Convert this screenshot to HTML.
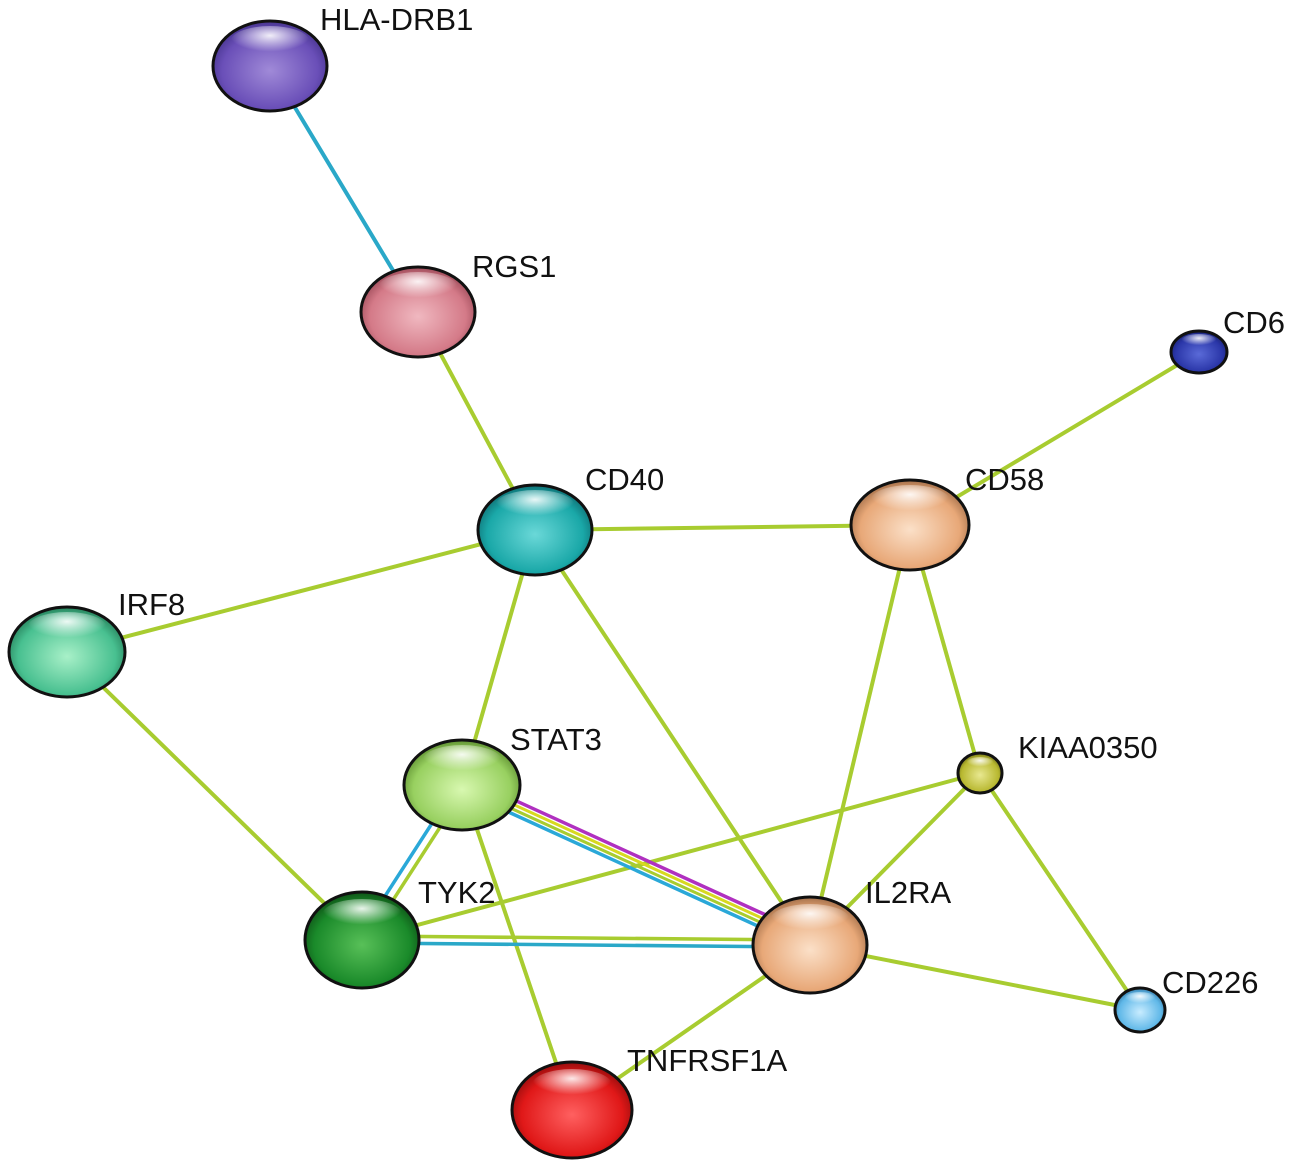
<!DOCTYPE html>
<html><head><style>
html,body{margin:0;padding:0;background:#fff;}
svg{display:block}
text{font-family:"Liberation Sans",sans-serif;font-size:31px;fill:#111}
</style></head><body>
<svg width="1289" height="1166" viewBox="0 0 1289 1166" xmlns="http://www.w3.org/2000/svg">
<defs>
<radialGradient id="hl" cx="0.5" cy="0.3" r="0.5"><stop offset="0" stop-color="#fff" stop-opacity="0.9"/><stop offset="1" stop-color="#fff" stop-opacity="0"/></radialGradient>
<radialGradient id="g_purple" cx="0.5" cy="0.55" r="0.6"><stop offset="0" stop-color="#a08ad8"/><stop offset="0.7" stop-color="#6a4fb8"/><stop offset="1" stop-color="#3a2a80"/></radialGradient>
<radialGradient id="g_pink" cx="0.5" cy="0.55" r="0.6"><stop offset="0" stop-color="#f0b8c0"/><stop offset="0.7" stop-color="#d47a88"/><stop offset="1" stop-color="#8a3a48"/></radialGradient>
<radialGradient id="g_blue" cx="0.5" cy="0.55" r="0.6"><stop offset="0" stop-color="#5a6ad8"/><stop offset="0.7" stop-color="#2a36a8"/><stop offset="1" stop-color="#141c60"/></radialGradient>
<radialGradient id="g_teal" cx="0.5" cy="0.55" r="0.6"><stop offset="0" stop-color="#6ad8d8"/><stop offset="0.7" stop-color="#1aa8a8"/><stop offset="1" stop-color="#0a5a60"/></radialGradient>
<radialGradient id="g_peach" cx="0.5" cy="0.55" r="0.6"><stop offset="0" stop-color="#fbe0c8"/><stop offset="0.7" stop-color="#e8a878"/><stop offset="1" stop-color="#8a5a38"/></radialGradient>
<radialGradient id="g_mint" cx="0.5" cy="0.55" r="0.6"><stop offset="0" stop-color="#a8f0c8"/><stop offset="0.7" stop-color="#48c090"/><stop offset="1" stop-color="#1a6a48"/></radialGradient>
<radialGradient id="g_lgreen" cx="0.5" cy="0.55" r="0.6"><stop offset="0" stop-color="#d8f8b0"/><stop offset="0.7" stop-color="#98d060"/><stop offset="1" stop-color="#4a7a20"/></radialGradient>
<radialGradient id="g_olive" cx="0.5" cy="0.55" r="0.6"><stop offset="0" stop-color="#e8e890"/><stop offset="0.7" stop-color="#b8b830"/><stop offset="1" stop-color="#5a5a10"/></radialGradient>
<radialGradient id="g_dgreen" cx="0.5" cy="0.55" r="0.6"><stop offset="0" stop-color="#58c058"/><stop offset="0.7" stop-color="#1a8a2a"/><stop offset="1" stop-color="#0a4010"/></radialGradient>
<radialGradient id="g_sky" cx="0.5" cy="0.55" r="0.6"><stop offset="0" stop-color="#c8ecff"/><stop offset="0.7" stop-color="#60b8e8"/><stop offset="1" stop-color="#2a6a98"/></radialGradient>
<radialGradient id="g_red" cx="0.5" cy="0.55" r="0.6"><stop offset="0" stop-color="#ff6060"/><stop offset="0.7" stop-color="#e01818"/><stop offset="1" stop-color="#7a0808"/></radialGradient>
</defs>
<g stroke-linecap="round" fill="none">
<line x1="270" y1="66" x2="418" y2="312" stroke="#2aa8c8" stroke-width="4"/>
<g stroke="#a8cc30" stroke-width="4">
<line x1="418" y1="312" x2="535" y2="530"/>
<line x1="1199" y1="352" x2="910" y2="525"/>
<line x1="535" y1="530" x2="910" y2="525"/>
<line x1="535" y1="530" x2="67" y2="652"/>
<line x1="535" y1="530" x2="462" y2="785"/>
<line x1="535" y1="530" x2="810" y2="945"/>
<line x1="910" y1="525" x2="810" y2="945"/>
<line x1="910" y1="525" x2="980" y2="773"/>
<line x1="67" y1="652" x2="362" y2="940"/>
<line x1="462" y1="785" x2="572" y2="1110"/>
<line x1="362" y1="940" x2="980" y2="773"/>
<line x1="980" y1="773" x2="810" y2="945"/>
<line x1="980" y1="773" x2="1140" y2="1010"/>
<line x1="810" y1="945" x2="1140" y2="1010"/>
<line x1="810" y1="945" x2="572" y2="1110"/>
</g>
<line x1="466" y1="787" x2="366" y2="942" stroke="#a8cc30" stroke-width="3.5"/>
<line x1="458" y1="783" x2="358" y2="938" stroke="#2aa8d8" stroke-width="3.5"/>
<line x1="362" y1="936" x2="810" y2="940" stroke="#a8cc30" stroke-width="3.5"/>
<line x1="362" y1="943" x2="810" y2="947" stroke="#2aa8c8" stroke-width="3.5"/>
<line x1="464" y1="777" x2="814" y2="937" stroke="#b030c0" stroke-width="3.5"/>
<line x1="462" y1="781" x2="812" y2="941" stroke="#d8d820" stroke-width="3"/>
<line x1="460" y1="785" x2="810" y2="945" stroke="#a8cc30" stroke-width="3"/>
<line x1="458" y1="789" x2="808" y2="949" stroke="#2aa8d8" stroke-width="3.5"/>
</g>
<g stroke="#111" stroke-width="3">
<ellipse cx="270" cy="66" rx="57" ry="45" fill="url(#g_purple)"/>
<ellipse cx="418" cy="312" rx="57" ry="45" fill="url(#g_pink)"/>
<ellipse cx="1199" cy="352" rx="28" ry="21" fill="url(#g_blue)"/>
<ellipse cx="535" cy="530" rx="57" ry="45" fill="url(#g_teal)"/>
<ellipse cx="910" cy="525" rx="59" ry="45" fill="url(#g_peach)"/>
<ellipse cx="67" cy="652" rx="58" ry="45" fill="url(#g_mint)"/>
<ellipse cx="462" cy="785" rx="58" ry="45" fill="url(#g_lgreen)"/>
<ellipse cx="980" cy="773" rx="22" ry="20" fill="url(#g_olive)"/>
<ellipse cx="362" cy="940" rx="57" ry="48" fill="url(#g_dgreen)"/>
<ellipse cx="810" cy="945" rx="57" ry="48" fill="url(#g_peach)"/>
<ellipse cx="1140" cy="1010" rx="25" ry="22" fill="url(#g_sky)"/>
<ellipse cx="572" cy="1110" rx="60" ry="48" fill="url(#g_red)"/>
</g>
<g fill="url(#hl)">
<ellipse cx="270" cy="42" rx="40" ry="16"/><ellipse cx="418" cy="288" rx="40" ry="16"/>
<ellipse cx="1199" cy="341" rx="18" ry="7"/><ellipse cx="535" cy="506" rx="40" ry="16"/>
<ellipse cx="910" cy="501" rx="40" ry="16"/><ellipse cx="67" cy="628" rx="40" ry="16"/>
<ellipse cx="462" cy="761" rx="40" ry="16"/><ellipse cx="980" cy="763" rx="14" ry="6"/>
<ellipse cx="362" cy="915" rx="40" ry="16"/><ellipse cx="810" cy="920" rx="40" ry="16"/>
<ellipse cx="1140" cy="999" rx="16" ry="7"/><ellipse cx="572" cy="1085" rx="40" ry="16"/>
</g>
<text x="320" y="30">HLA-DRB1</text>
<text x="472" y="277">RGS1</text>
<text x="1223" y="333">CD6</text>
<text x="585" y="490">CD40</text>
<text x="965" y="490">CD58</text>
<text x="118" y="615">IRF8</text>
<text x="510" y="750">STAT3</text>
<text x="1018" y="758">KIAA0350</text>
<text x="418" y="903">TYK2</text>
<text x="865" y="903">IL2RA</text>
<text x="1162" y="993">CD226</text>
<text x="627" y="1071">TNFRSF1A</text>
</svg>
</body></html>
